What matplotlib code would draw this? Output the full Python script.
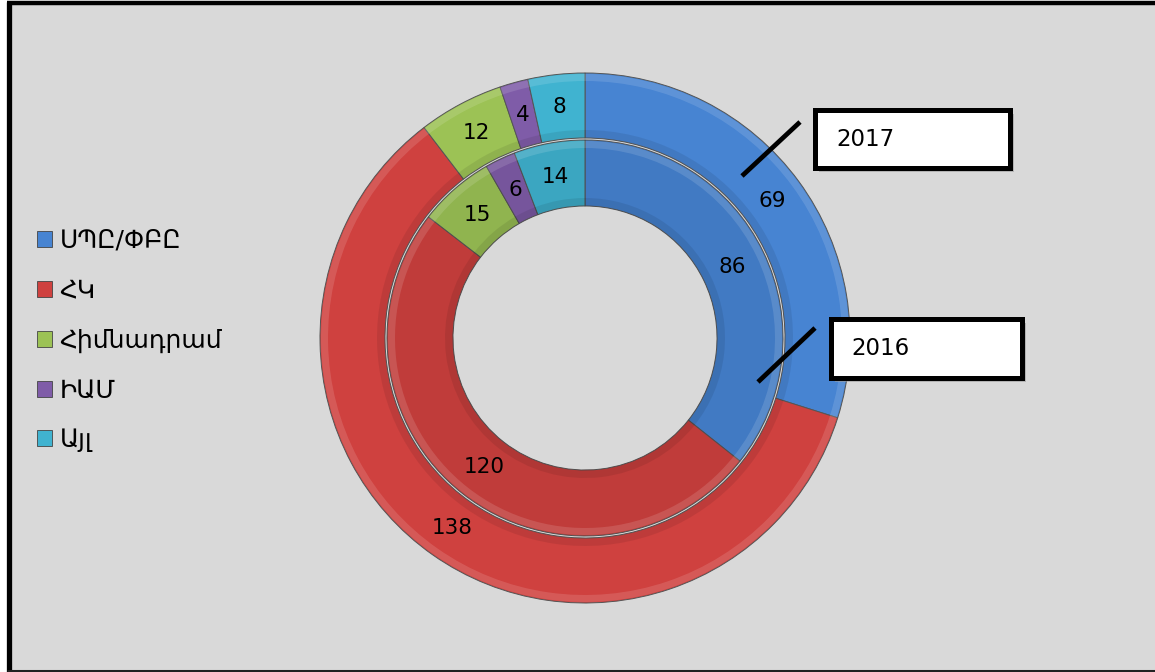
import matplotlib
matplotlib.use("Agg")
import matplotlib.pyplot as plt
from matplotlib.patches import Rectangle, Patch

categories = ["ՍՊԸ/ՓԲԸ", "ՀԿ", "Հիմնադրամ", "ԻԱՄ", "Այլ"]
values_2017 = [69, 138, 12, 4, 8]
values_2016 = [86, 120, 15, 6, 14]
series_names = ["2017", "2016"]
colors = ["#4784D2", "#CF413F", "#9CC255", "#7F5CA8", "#40B3D0"]

W, H = 1155, 672
fig = plt.figure(figsize=(W / 100, H / 100), dpi=100, facecolor="white")
ax = fig.add_axes([0, 0, 1, 1])

def Y(py):
    return H - py

# background and frame
ax.add_patch(Rectangle((9, Y(670)), W, 667, facecolor="#D9D9D9", edgecolor="none", zorder=0))
ax.plot([9, 9], [Y(2), Y(672)], color="black", lw=3.8, solid_capstyle="butt", zorder=1)
ax.plot([7, W], [Y(3), Y(3)], color="black", lw=3.2, solid_capstyle="butt", zorder=1)
ax.plot([7, W], [Y(670.5), Y(670.5)], color="#222222", lw=2.2, solid_capstyle="butt", zorder=1)

cx, cy = 585, Y(338)

def fmt(vals):
    tot = sum(vals)
    return lambda p: f"{round(p * tot / 100)}"

def ring(vals, radius, width, pctd, shade):
    wedges, _, autotexts = ax.pie(vals, radius=radius, center=(cx, cy), startangle=90, counterclock=False,
                                  colors=colors, autopct=fmt(vals), pctdistance=pctd,
                                  wedgeprops=dict(width=width, edgecolor="#555555", linewidth=0.7),
                                  textprops=dict(fontsize=15.5, color="black", family="DejaVu Sans"),
                                  frame=True)
    for t in autotexts:
        t.set_zorder(4)
    # bevel: overall shade, light rim at outside, darker band at inside
    ax.pie(vals, radius=radius, center=(cx, cy), startangle=90, counterclock=False,
           colors=["black"] * len(vals),
           wedgeprops=dict(width=width, alpha=shade, edgecolor="none"), frame=True)
    ax.pie(vals, radius=radius - 1, center=(cx, cy), startangle=90, counterclock=False,
           colors=["white"] * len(vals),
           wedgeprops=dict(width=7, alpha=0.13, edgecolor="none"), frame=True)
    ax.pie(vals, radius=radius - width + 8, center=(cx, cy), startangle=90, counterclock=False,
           colors=["black"] * len(vals),
           wedgeprops=dict(width=8, alpha=0.08, edgecolor="none"), frame=True)
    return wedges

ring(values_2017, 265, 65, 0.875, 0.0)
ring(values_2016, 198, 66, 0.825, 0.07)

# series callouts
def callout(x0, y0, x1, y1, bx0, by0, bx1, by1, text, tx):
    ax.plot([x0, x1], [Y(y0), Y(y1)], color="black", lw=3.4, solid_capstyle="butt", zorder=5)
    ax.add_patch(Rectangle((bx0 + 4, Y(by1) - 4), bx1 - bx0, by1 - by0, facecolor="#9a9a9a",
                           edgecolor="none", alpha=0.6, zorder=5))
    ax.add_patch(Rectangle((bx0, Y(by1)), bx1 - bx0, by1 - by0, facecolor="white",
                           edgecolor="black", lw=3.6, zorder=6))
    ax.text(tx, Y((by0 + by1) / 2), text, fontsize=16.5, va="center", ha="left", zorder=7,
            family="DejaVu Sans")

callout(742, 176, 800, 122, 815, 110, 1010, 168, series_names[0], 836)
callout(758, 382, 815, 328, 831, 319, 1022, 378, series_names[1], 851)

# legend
handles = [Patch(facecolor=c, edgecolor="#444444", linewidth=0.6) for c in colors]
leg = ax.legend(handles, categories, loc="upper left", bbox_to_anchor=(37 / W, 1 - 229 / H),
                frameon=False, fontsize=18, handlelength=0.6, handleheight=0.6,
                handletextpad=0.3, labelspacing=1.03, borderaxespad=0, borderpad=0)
for t in leg.get_texts():
    t.set_family("DejaVu Sans")

ax.set_xlim(0, W)
ax.set_ylim(0, H)
ax.set_aspect("auto")
ax.axis("off")

fig.savefig("out.png", dpi=100, facecolor="white")
